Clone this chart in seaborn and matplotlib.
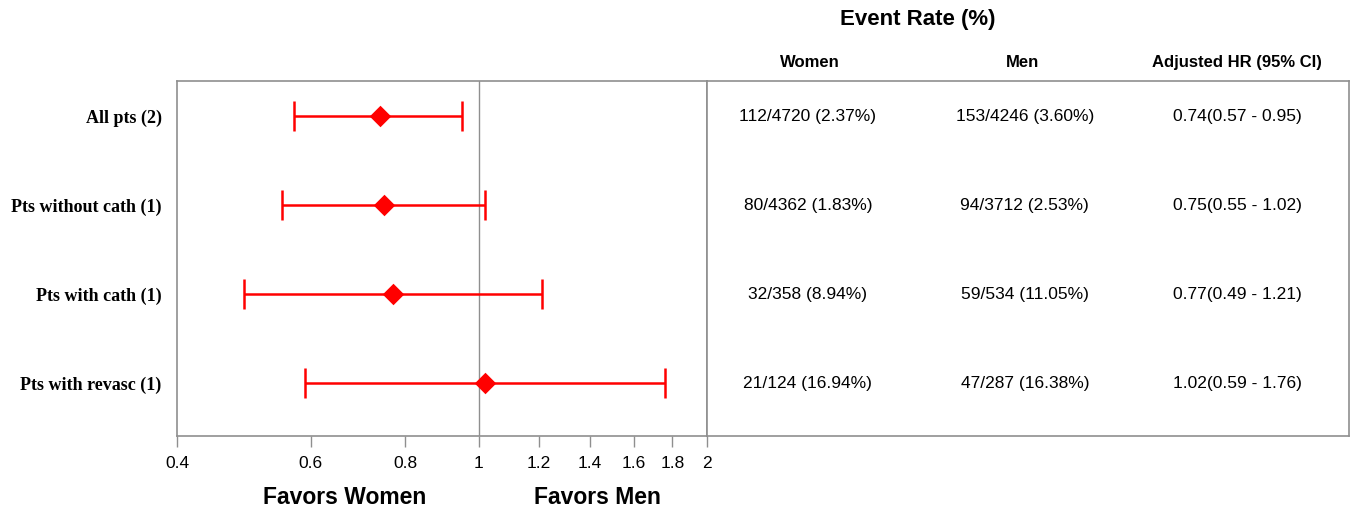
import matplotlib
matplotlib.use("Agg")
import matplotlib.pyplot as plt
import matplotlib.ticker as mticker
import seaborn as sns
import pandas as pd

# ---- data ----
groups = ["All pts (2)", "Pts without cath (1)", "Pts with cath (1)", "Pts with revasc (1)"]
hr = [0.74, 0.75, 0.77, 1.02]
ci_low = [0.57, 0.55, 0.49, 0.59]
ci_high = [0.95, 1.02, 1.21, 1.76]
women_rate = ["112/4720 (2.37%)", "80/4362 (1.83%)", "32/358 (8.94%)", "21/124 (16.94%)"]
men_rate = ["153/4246 (3.60%)", "94/3712 (2.53%)", "59/534 (11.05%)", "47/287 (16.38%)"]
hr_text = ["0.74(0.57 - 0.95)", "0.75(0.55 - 1.02)", "0.77(0.49 - 1.21)", "1.02(0.59 - 1.76)"]
x_ticks = [0.4, 0.6, 0.8, 1, 1.2, 1.4, 1.6, 1.8, 2]
x_tick_labels = ["0.4", "0.6", "0.8", "1", "1.2", "1.4", "1.6", "1.8", "2"]
col_headers = ["Women", "Men", "Adjusted HR (95% CI)"]

df = pd.DataFrame({"group": groups, "hr": hr, "lo": ci_low, "hi": ci_high,
                   "pos": list(range(len(groups)))})

sns.set_theme(style="white")
plt.rcParams["font.family"] = ["Liberation Sans", "DejaVu Sans"]
plt.rcParams["text.color"] = "black"
plt.rcParams["xtick.color"] = "black"
plt.rcParams["ytick.color"] = "black"

W, H = 1357, 510
fig = plt.figure(figsize=(W / 100, H / 100), dpi=100)
left, right, top, bottom = 177, 1349, 82, 437
split = 707
ax = fig.add_axes([left / W, 1 - bottom / H, (split - left) / W, (bottom - top) / H])
ax2 = fig.add_axes([split / W, 1 - bottom / H, (right - split) / W, (bottom - top) / H], sharey=ax)

grey = "#8f8f8f"
red = "#ff0000"

# reference line
ax.axvline(1, color=grey, lw=1.0, zorder=1)

# CIs
ax.errorbar(df["hr"], df["pos"],
            xerr=[df["hr"] - df["lo"], df["hi"] - df["hr"]],
            fmt="none", ecolor=red, elinewidth=1.8, capsize=10.5, capthick=1.8, zorder=2)
sns.scatterplot(data=df, x="hr", y="pos", marker="D", s=120, color=red,
                edgecolor=red, linewidth=0, ax=ax, zorder=3, legend=False)

ax.set_xscale("log")
ax.set_xlim(0.4, 2)
ax.set_ylim(3.6, -0.39)
ax.xaxis.set_major_locator(mticker.FixedLocator(x_ticks))
ax.xaxis.set_major_formatter(mticker.FixedFormatter(x_tick_labels))
ax.xaxis.set_minor_locator(mticker.NullLocator())
ax.tick_params(axis="x", direction="out", length=8, width=1, color=grey, pad=6,
               labelsize=12.5, labelcolor="black", bottom=True)
ax.set_yticks(df["pos"])
ax.set_yticklabels(groups, fontfamily="Liberation Serif", fontweight="bold", fontsize=13)
ax.tick_params(axis="y", length=0, pad=11, labelcolor="black")
ax.set_xlabel("")
ax.set_ylabel("")
for s in ax.spines.values():
    s.set_color(grey)
    s.set_linewidth(1.2)

ax.text(0.317, -0.17, "Favors Women", transform=ax.transAxes, ha="center", va="center",
        fontsize=16.5, fontweight="bold", color="black")
ax.text(0.794, -0.17, "Favors Men", transform=ax.transAxes, ha="center", va="center",
        fontsize=16.5, fontweight="bold", color="black")

# table
ax2.set_xlim(0, 1)
ax2.tick_params(axis="both", length=0, labelleft=False, labelbottom=False)
ax2.set_xticks([])
for s in ax2.spines.values():
    s.set_color(grey)
    s.set_linewidth(1.2)
cols_x = [0.157, 0.495, 0.826]
for i in range(len(groups)):
    for cx, txt in zip(cols_x, [women_rate[i], men_rate[i], hr_text[i]]):
        ax2.text(cx, i, txt, ha="center", va="center", fontsize=12.5, color="black")
for cx, h in zip([0.160, 0.491, 0.826], col_headers):
    ax2.text(cx, 1.056, h, transform=ax2.transAxes, ha="center", va="center",
             fontsize=12, fontweight="bold", color="black")
ax2.text(0.328, 1.175, "Event Rate (%)", transform=ax2.transAxes, ha="center",
         va="center", fontsize=16, fontweight="bold", color="black")

fig.savefig("out.png", dpi=100)
